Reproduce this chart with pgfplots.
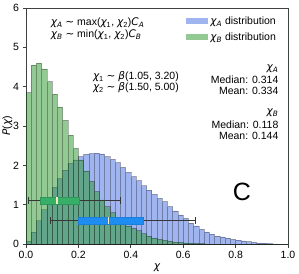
\documentclass[border=0pt]{standalone}
\usepackage{pgfplots}
\pgfplotsset{compat=1.18}
\usepackage{pgfplotstable}
\usepgfplotslibrary{statistics}
\usepackage{fontspec}
\setmainfont{Liberation Sans}
\newfontfamily\dv{DejaVu Sans}
\newcommand{\mi}[1]{{\dv\itshape #1}}
\newcommand{\sub}[1]{\textsubscript{#1}}
\newcommand{\sm}{{\dv ∼}}
\definecolor{hblue}{RGB}{65,105,225}
\definecolor{hgreen}{RGB}{40,150,40}
\definecolor{bxgreen}{RGB}{55,175,105}
\definecolor{bxblue}{RGB}{30,140,240}
\definecolor{cream}{RGB}{245,235,185}
\definecolor{whisk}{RGB}{55,55,55}

\pgfplotstableread{
x a b
0.00 0.07 3.85
0.02 0.30 4.55
0.04 0.59 4.60
0.06 0.87 4.45
0.08 1.18 4.13
0.10 1.44 3.81
0.12 1.66 3.48
0.14 1.88 3.14
0.16 2.05 2.77
0.18 2.14 2.43
0.20 2.22 2.14
0.22 2.28 1.86
0.24 2.30 1.59
0.26 2.31 1.33
0.28 2.29 1.12
0.30 2.22 0.95
0.32 2.15 0.80
0.34 2.07 0.67
0.36 1.95 0.57
0.38 1.82 0.46
0.40 1.71 0.40
0.42 1.61 0.34
0.44 1.48 0.26
0.46 1.37 0.20
0.48 1.26 0.15
0.50 1.16 0.12
0.52 1.08 0.09
0.54 0.95 0.07
0.56 0.84 0.05
0.58 0.74 0.04
0.60 0.65 0.03
0.62 0.53 0.02
0.64 0.46 0.015
0.66 0.37 0.01
0.68 0.31 0.005
0.70 0.25 0
0.72 0.20 0
0.74 0.18 0
0.76 0.15 0
0.78 0.12 0
0.80 0.10 0
0.82 0.08 0
0.84 0.06 0
0.86 0.04 0
0.88 0.03 0
0.90 0.02 0
0.92 0.01 0
0.94 0.005 0
0.96 0 0
0.98 0 0
1.00 0 0
}\hist

\begin{document}
\begin{tikzpicture}
\begin{axis}[
  scale only axis, width=262pt, height=236pt,
  xmin=0, xmax=1, ymin=0, ymax=6,
  xtick={0,0.2,0.4,0.6,0.8,1.0}, ytick={0,1,2,3,4,5,6},
  xticklabel style={/pgf/number format/fixed, /pgf/number format/fixed zerofill, /pgf/number format/precision=1},
  /pgf/number format/assume math mode=true,
  tick align=outside, major tick length=3.5pt, tick pos=left,
  axis line style={black!75, line width=0.8pt},
  tick style={black!75, line width=0.8pt},
  ticklabel style={font=\fontsize{10.5}{12}\selectfont},
  xlabel={\mi{χ}}, ylabel={\mi{P}(\mi{χ})},
  label style={font=\fontsize{10.5}{12}\selectfont},
  xlabel style={yshift=2pt},
  ylabel style={yshift=-6pt},
  legend style={draw=none, fill=none, inner sep=0pt,
    at={(rel axis cs:0.962,0.972)}, anchor=north east,
    font=\fontsize{10.5}{12}\selectfont, row sep=3pt,
    /tikz/every even column/.append style={column sep=6pt}},
  legend cell align=left,
  legend image code/.code={\fill[#1, draw=none] (0pt,-3pt) rectangle (22pt,3pt);},
]
\addplot[ybar interval, fill=hblue, fill opacity=0.5, draw=black, draw opacity=0.3, line width=0.6pt] table[x=x, y=a] {\hist};
\addlegendentry{\mi{χ\sub{A}} distribution}
\addplot[ybar interval, fill=hgreen, fill opacity=0.5, draw=black, draw opacity=0.3, line width=0.6pt] table[x=x, y=b] {\hist};
\addlegendentry{\mi{χ\sub{B}} distribution}

\addplot[forget plot, boxplot prepared={lower whisker=0.011, lower quartile=0.056, median=0.118, upper quartile=0.204, upper whisker=0.362, draw position=1.1, box extend=0.17, whisker extend=0.17, draw direction=x},
  boxplot/every box/.style={draw=bxgreen!85!black, fill=bxgreen, line width=0.6pt},
  boxplot/every whisker/.style={draw=whisk, line width=1.2pt},
  boxplot/every median/.style={draw=cream, line width=1.4pt}] coordinates {};
\addplot[forget plot, boxplot prepared={lower whisker=0.092, lower quartile=0.201, median=0.315, upper quartile=0.446, upper whisker=0.648, draw position=0.59, box extend=0.17, whisker extend=0.17, draw direction=x},
  boxplot/every box/.style={draw=bxblue!90!black, fill=bxblue, line width=0.6pt},
  boxplot/every whisker/.style={draw=whisk, line width=1.2pt},
  boxplot/every median/.style={draw=cream, line width=1.4pt}] coordinates {};

\node[anchor=west, font=\fontsize{10.5}{12}\selectfont, inner sep=0pt] at (axis cs:0.094,5.62) {\mi{χ\sub{A}} \sm{} max(\mi{χ}\sub{1}, \mi{χ}\sub{2})\mi{C\sub{A}}};
\node[anchor=west, font=\fontsize{10.5}{12}\selectfont, inner sep=0pt] at (axis cs:0.094,5.31) {\mi{χ\sub{B}} \sm{} min(\mi{χ}\sub{1}, \mi{χ}\sub{2})\mi{C\sub{B}}};
\node[anchor=west, font=\fontsize{10.5}{12}\selectfont, inner sep=0pt] at (axis cs:0.255,4.26) {\mi{χ}\sub{1} \sm{} \mi{β}(1.05, 3.20)};
\node[anchor=west, font=\fontsize{10.5}{12}\selectfont, inner sep=0pt] at (axis cs:0.255,3.97) {\mi{χ}\sub{2} \sm{} \mi{β}(1.50, 5.00)};

\node[anchor=east, font=\fontsize{10.5}{12}\selectfont, inner sep=0pt] at (axis cs:0.964,4.45) {\mi{χ\sub{A}}};
\node[anchor=east, font=\fontsize{10.5}{12}\selectfont, inner sep=0pt] at (axis cs:0.964,4.17) {Median: 0.314};
\node[anchor=east, font=\fontsize{10.5}{12}\selectfont, inner sep=0pt] at (axis cs:0.964,3.89) {Mean: 0.334};
\node[anchor=east, font=\fontsize{10.5}{12}\selectfont, inner sep=0pt] at (axis cs:0.964,3.33) {\mi{χ\sub{B}}};
\node[anchor=east, font=\fontsize{10.5}{12}\selectfont, inner sep=0pt] at (axis cs:0.964,3.03) {Median: 0.118};
\node[anchor=east, font=\fontsize{10.5}{12}\selectfont, inner sep=0pt] at (axis cs:0.964,2.75) {Mean: 0.144};

\node[font=\fontsize{25}{28}\selectfont] at (axis cs:0.824,1.33) {C};
\end{axis}
\pgfresetboundingbox
\path ([shift={(-26pt,-29pt)}]current axis.south west) rectangle ([shift={(11pt,8pt)}]current axis.north east);
\end{tikzpicture}
\end{document}
